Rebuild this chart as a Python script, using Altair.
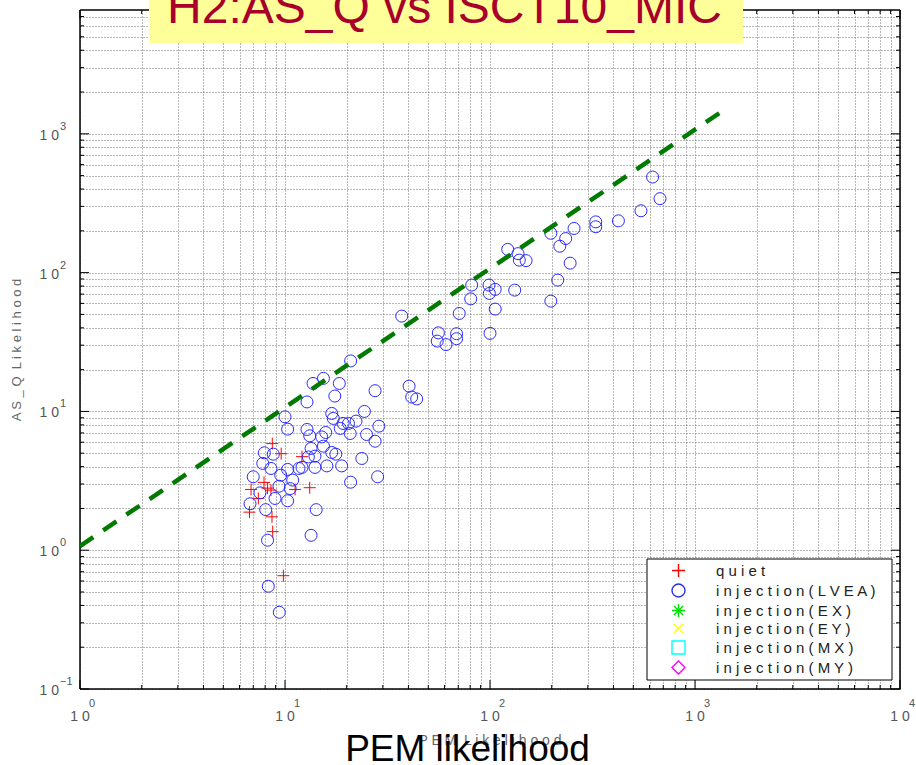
import math
import altair as alt
import pandas as pd

# ---------------- data ----------------
categories = ["quiet", "injection(LVEA)", "injection(EX)", "injection(EY)",
              "injection(MX)", "injection(MY)"]
cat_colors = ["#ff0000", "#2a2aff", "#00e000", "#ffff00", "#00ffff", "#ff00ff"]
cat_shapes = ["M-1,0H1M0,-1V1",
              "circle",
              "M-1,0H1M0,-1V1M-0.7,-0.7L0.7,0.7M-0.7,0.7L0.7,-0.7",
              "M-0.7,-0.7L0.7,0.7M-0.7,0.7L0.7,-0.7",
              "square",
              "diamond"]

quiet_pem = [8.67, 9.58, 12.1, 7.90, 8.22, 8.54, 6.83, 7.41, 6.71, 8.64, 8.71, 9.82, 11.2, 13.2]
quiet_asq = [5.86, 4.96, 4.72, 3.08, 2.80, 2.71, 2.74, 2.36, 1.88, 1.74, 1.36, 0.655, 2.74, 2.82]

lvea_pem = [621, 675, 545, 423, 328, 328, 257, 198, 234, 219, 246, 122, 137, 139, 150,
            214, 198, 132, 98.9, 106, 99.3, 106, 81.4, 80.5, 70.8, 100, 56.0, 55.3, 61.0,
            68.7, 68.7, 37.1, 20.9, 15.4, 13.7, 18.4, 17.5, 12.8, 27.5, 40.3, 41.5, 43.9,
            24.4, 16.9, 17.2, 22.2, 28.7, 19.2, 20.4, 18.6, 20.8, 25.0, 27.5, 12.8, 13.2,
            15.8, 15.1, 15.4, 13.4, 16.9, 17.7, 14.0, 13.0, 23.7, 18.9, 16.0, 14.0, 12.1,
            28.3, 20.9, 14.2, 13.4, 10.0, 10.3, 7.93, 8.77, 7.79, 8.54, 10.3, 11.7, 7.00,
            9.53, 10.9, 10.6, 9.35, 7.55, 8.94, 10.3, 6.75, 8.05, 8.22, 8.29, 9.38]
lvea_asq = [488, 341, 279, 236, 232, 214, 208, 192, 176, 155, 117, 147, 137, 123, 122,
            88.3, 62.3, 74.8, 81.3, 75.7, 70.8, 54.6, 81.3, 64.7, 50.8, 36.5, 36.8, 32.1, 30.3,
            36.3, 33.4, 48.6, 23.1, 17.3, 15.9, 15.9, 12.9, 11.7, 14.1, 15.2, 12.7, 12.3,
            10.0, 9.67, 8.90, 8.51, 7.83, 8.19, 8.19, 7.54, 6.93, 6.82, 6.10, 7.41, 6.67,
            7.05, 6.55, 5.62, 5.41, 5.06, 4.92, 4.76, 4.70, 4.58, 4.05, 4.05, 3.95, 3.95,
            3.38, 3.09, 1.96, 1.28, 9.14, 7.45, 5.03, 4.92, 4.22, 3.88, 3.82, 3.88, 3.38,
            3.47, 3.20, 2.78, 2.89, 2.59, 2.36, 2.27, 2.16, 1.96, 1.18, 0.550, 0.357]

line_pem = [1, 1400]
line_asq = [1.07, 1500]

x_decades = [1, 10, 100, 1000, 10000]
x_exps = ["0", "1", "2", "3", "4"]
y_decades = [0.1, 1, 10, 100, 1000]
y_exps = ["\u22121", "0", "1", "2", "3"]

title_text = ["H2:AS_Q vs ISCT10_MIC"]
xtitle_big = ["PEM likelihood"]
xtitle_small = ["P E M\u00a0\u00a0L i k e l i h o o d"]
ytitle_small = ["A S _ Q\u00a0\u00a0L i k e l i h o o d"]

# ---------------- layout ----------------
W, H = 820, 679
X_DOMAIN = [1, 10000]
Y_DOMAIN = [0.1, 7800]

x_grid = [m * 10 ** k for k in range(0, 4) for m in range(1, 10)] + [10000]
y_grid = [m * 10.0 ** k for k in range(-1, 4) for m in range(1, 10) if m * 10.0 ** k <= 7000]

xs = alt.Scale(type="log", domain=X_DOMAIN, nice=False)
ys = alt.Scale(type="log", domain=Y_DOMAIN, nice=False)
grid_kw = dict(grid=True, gridDash=[1, 2], gridColor="#707070", gridWidth=1,
               labels=False, ticks=False, domain=False, title="")
xaxis = alt.Axis(values=x_grid, **grid_kw)
yaxis = alt.Axis(values=y_grid, **grid_kw)


def X(f):
    return alt.X(f, scale=xs, axis=xaxis)


def Y(f):
    return alt.Y(f, scale=ys, axis=yaxis)


def is_major(v):
    lv = math.log10(v)
    return 1 if abs(lv - round(lv)) < 1e-9 else 0


df_pts = pd.DataFrame({
    "pem": quiet_pem + lvea_pem,
    "asq": quiet_asq + lvea_asq,
    "source": ["quiet"] * len(quiet_pem) + ["injection(LVEA)"] * len(lvea_pem),
})
df_line = pd.DataFrame({"pem": line_pem, "asq": line_asq})
df_xt = pd.DataFrame({"v": x_grid, "major": [is_major(v) for v in x_grid]})
df_yt = pd.DataFrame({"v": y_grid, "major": [is_major(v) for v in y_grid]})
df_xd = pd.DataFrame({"v": x_decades, "e": x_exps})
df_yd = pd.DataFrame({"v": y_decades, "e": y_exps})
one = pd.DataFrame({"d": [0]})

base_frame = [
    alt.Chart(one).mark_rule(color="black", strokeWidth=1.5).encode(
        x=alt.value(0), x2=alt.value(W), y=alt.value(0)),
    alt.Chart(one).mark_rule(color="black", strokeWidth=1.5).encode(
        x=alt.value(0), x2=alt.value(W), y=alt.value(H)),
    alt.Chart(one).mark_rule(color="black", strokeWidth=1.5).encode(
        x=alt.value(0), y=alt.value(0), y2=alt.value(H)),
    alt.Chart(one).mark_rule(color="black", strokeWidth=1.5).encode(
        x=alt.value(W), y=alt.value(0), y2=alt.value(H)),
]

ticks = []
for major, ln in [(1, 9), (0, 4)]:
    flt = f"datum.major == {major}"
    ticks.append(alt.Chart(df_xt).transform_filter(flt).mark_rule(color="black").encode(
        x=X("v:Q"), y=alt.value(H), y2=alt.value(H - ln)))
    ticks.append(alt.Chart(df_xt).transform_filter(flt).mark_rule(color="black").encode(
        x=X("v:Q"), y=alt.value(0), y2=alt.value(ln)))
    ticks.append(alt.Chart(df_yt).transform_filter(flt).mark_rule(color="black").encode(
        y=Y("v:Q"), x=alt.value(0), x2=alt.value(ln)))
    ticks.append(alt.Chart(df_yt).transform_filter(flt).mark_rule(color="black").encode(
        y=Y("v:Q"), x=alt.value(W), x2=alt.value(W - ln)))

leg = alt.Legend(title=None, orient="none", legendX=591, legendY=553,
                 direction="vertical", padding=0,
                 labelFont="Liberation Sans", labelFontSize=15, labelColor="#222222",
                 labelLimit=400,
                 labelExpr="join(split(datum.label, ''), ' ')",
                 symbolSize=169, symbolStrokeWidth=1.4, rowPadding=1,
                 labelOffset=30)

points = alt.Chart(df_pts).mark_point(filled=False, size=144, strokeWidth=1, opacity=1).encode(
    x=X("pem:Q"), y=Y("asq:Q"),
    color=alt.Color("source:N", scale=alt.Scale(domain=categories, range=cat_colors), legend=leg),
    shape=alt.Shape("source:N", scale=alt.Scale(domain=categories, range=cat_shapes), legend=leg),
)

line = alt.Chart(df_line).mark_line(color="#007a00", strokeWidth=4.5, strokeDash=[16, 12]).encode(
    x=X("pem:Q"), y=Y("asq:Q"))

legend_box = alt.Chart(one).mark_rect(fill="white", stroke="black", strokeWidth=1).encode(
    x=alt.value(567), x2=alt.value(812), y=alt.value(549), y2=alt.value(670))

title_box = alt.Chart(one).mark_rect(fill="#ffff99").encode(
    x=alt.value(69), x2=alt.value(663), y=alt.value(-10), y2=alt.value(33))
title = alt.Chart(pd.DataFrame({"t": title_text})).mark_text(
    font="Liberation Sans", fontSize=48, color="#a8002a", align="center",
    baseline="alphabetic").encode(x=alt.value(364.5), y=alt.value(12.7), text="t:N")

xlab = alt.Chart(df_xd).mark_text(font="Liberation Sans", fontSize=14, color="#555555",
                                  align="center", baseline="alphabetic", text="1 0").encode(
    x=X("v:Q"), y=alt.value(711))
xexp = alt.Chart(df_xd).mark_text(font="Liberation Sans", fontSize=11, color="#555555",
                                  align="left", baseline="alphabetic", dx=9).encode(
    x=X("v:Q"), y=alt.value(697), text="e:N")
ylab = alt.Chart(df_yd).mark_text(font="Liberation Sans", fontSize=14, color="#555555",
                                  align="right", baseline="alphabetic", dy=6, text="1 0").encode(
    y=Y("v:Q"), x=alt.value(-21))
yexp = alt.Chart(df_yd).mark_text(font="Liberation Sans", fontSize=11, color="#555555",
                                  align="left", baseline="alphabetic", dy=-4).encode(
    y=Y("v:Q"), x=alt.value(-20), text="e:N")

xt_small = alt.Chart(pd.DataFrame({"t": xtitle_small})).mark_text(
    font="Liberation Sans", fontSize=14, color="#666666", align="center",
    baseline="alphabetic").encode(x=alt.value(410), y=alt.value(735), text="t:N")
yt_small = alt.Chart(pd.DataFrame({"t": ytitle_small})).mark_text(
    font="Liberation Sans", fontSize=13, color="#666666", align="center",
    baseline="middle", angle=270).encode(x=alt.value(-63), y=alt.value(340), text="t:N")
xt_big = alt.Chart(pd.DataFrame({"t": xtitle_big})).mark_text(
    font="Liberation Sans", fontSize=37, color="black", align="center",
    baseline="alphabetic").encode(x=alt.value(387.5), y=alt.value(751), text="t:N")

chart = alt.layer(
    *base_frame, *ticks, points, line, legend_box, title_box, title,
    xlab, xexp, ylab, yexp, xt_small, yt_small, xt_big,
).properties(
    width=W, height=H,
    autosize=alt.AutoSizeParams(type="none"),
    padding={"left": 80, "top": 10, "right": 16, "bottom": 76},
).configure(background="white").configure_view(stroke="transparent")

chart.save("out.html", embed_options={"renderer": "svg", "actions": False})
